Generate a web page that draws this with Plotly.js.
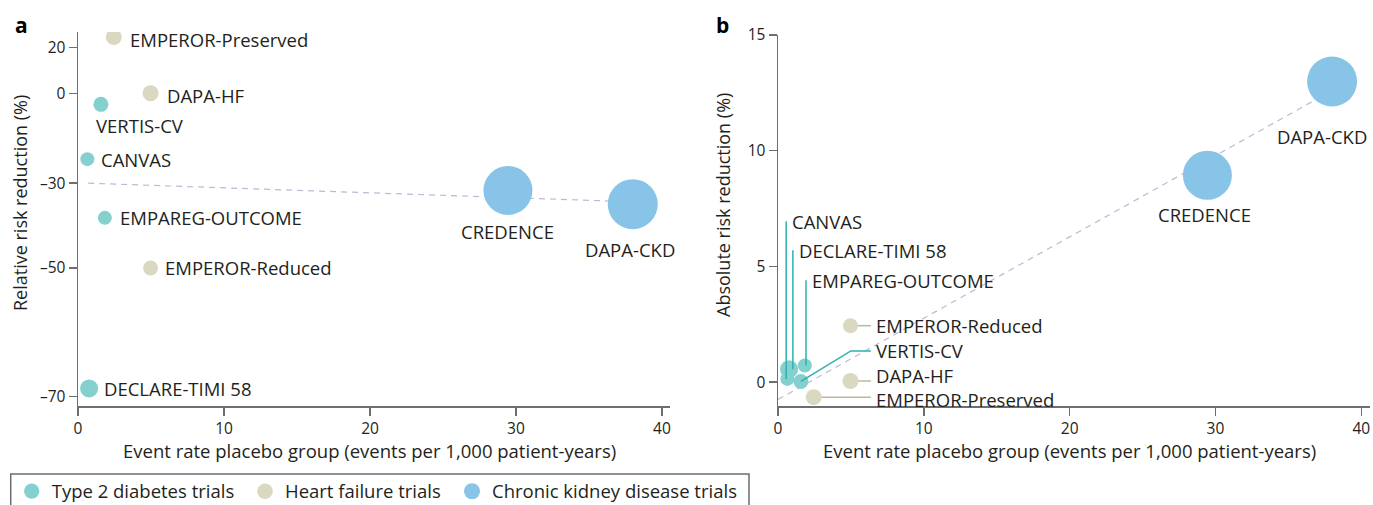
<!DOCTYPE html>
<html><head><meta charset="utf-8">
<script src="https://cdn.plot.ly/plotly-3.0.1.min.js"></script>
<style>html,body{margin:0;padding:0;background:#fff}#chart{width:1373px;height:505px}</style>
</head><body><div id="chart"></div>
<script>
// ---------------- DATA ----------------
const trials = ['EMPEROR-Preserved','DAPA-HF','VERTIS-CV','CANVAS','EMPAREG-OUTCOME','EMPEROR-Reduced','DECLARE-TIMI 58','CREDENCE','DAPA-CKD'];
const groups = ['HF','HF','T2D','T2D','T2D','HF','T2D','CKD','CKD'];
const eventRate = [2.45, 4.97, 1.57, 0.64, 1.84, 4.97, 0.76, 29.45, 38.0];          // events per 1,000 patient-years
const relRiskReduction = [25, 0, -4.3, -23, -39, -50, -69, -32, -35.6];           // %
const absRiskReduction = [-0.65, 0.05, 0.03, 0.14, 0.72, 2.44, 0.56, 8.94, 12.99]; // %
const groupKeys = ['T2D','HF','CKD'];
const groupNames = ['Type 2 diabetes trials','Heart failure trials','Chronic kidney disease trials'];
const relTicks = [20, 0, -30, -50, -70];
const absTicks = [0, 5, 10, 15];
const xTicks = [0, 10, 20, 30, 40];
const fitRelX = [0.7, 38.0], fitRelY = [-30, -35];
const fitAbsX = [0, 38.0],  fitAbsY = [-0.75, 12.6];
const xTitleText = 'Event rate placebo group (events per 1,000 patient-years)';
const yTitleA = 'Relative risk reduction (%)';
const yTitleB = 'Absolute risk reduction (%)';
</script>
<script>
// ---------------- STYLE ----------------
const FONT = 'Open Sans, sans-serif';
const TXT = '#231f20';
const AX = '#6d6e71';
const colors = {T2D:'#84d0ce', HF:'#dbd8c2', CKD:'#88c4e7'};
const leaderColors = {T2D:'#2bb3ae', HF:'#bdb89c'};
const markerSize = [16,16,15,14,14,15,18,49,50];
const LBL = 18.5;
// panel a label placement (pixel shifts from point)
const labA = [
  {xa:'left',xs:14,ys:-2},{xa:'left',xs:14,ys:-2},{xa:'left',xs:-7,ys:-21},{xa:'left',xs:12,ys:0},
  {xa:'left',xs:13,ys:0},{xa:'left',xs:12,ys:0},{xa:'left',xs:13,ys:0},{xa:'center',xs:0,ys:-41},{xa:'center',xs:-3,ys:-45}];
// panel b label placement (data units)
const labB = [
  {xa:'left',x:6.6,y:-0.73},{xa:'left',x:6.6,y:0.29},{xa:'left',x:6.6,y:1.35},{xa:'left',x:0.84,y:6.95},
  {xa:'left',x:2.2,y:4.4},{xa:'left',x:6.6,y:2.47},{xa:'left',x:1.3,y:5.7},{xa:'center',x:29.24,y:7.24},{xa:'center',x:37.3,y:10.6}];
// legend entry positions (px): marker centre x
const legendMarkerX = [31.7, 265, 472];
const legendY = 491.7;

const hr = relRiskReduction.map(v => 1 + v/100);

const data = [];
data.push({x:fitRelX, y:fitRelY.map(v=>1+v/100), xaxis:'x', yaxis:'y', mode:'lines', showlegend:false, hoverinfo:'skip',
  line:{color:'#b9bad4', width:1.2, dash:'6px,5px'}});
data.push({x:fitAbsX, y:fitAbsY, xaxis:'x2', yaxis:'y2', mode:'lines', showlegend:false, hoverinfo:'skip',
  line:{color:'#b9bad4', width:1.2, dash:'6px,5px'}});
const legendIds = ['legend','legend2','legend3'];
groupKeys.forEach((g, gi) => {
  const idx = trials.map((_, i) => i).filter(i => groups[i] === g);
  data.push({x: idx.map(i=>eventRate[i]), y: idx.map(i=>hr[i]), text: idx.map(i=>trials[i]), xaxis:'x', yaxis:'y',
    type:'scatter', mode:'markers', name: groupNames[gi], legendgroup:g, legend:legendIds[gi], showlegend:true,
    marker:{color:colors[g], size: idx.map(i=>markerSize[i]), opacity:1, line:{width:0}}});
});
groupKeys.forEach((g, gi) => {
  const idx = trials.map((_, i) => i).filter(i => groups[i] === g);
  data.push({x: idx.map(i=>eventRate[i]), y: idx.map(i=>absRiskReduction[i]), text: idx.map(i=>trials[i]), xaxis:'x2', yaxis:'y2',
    type:'scatter', mode:'markers', name: groupNames[gi], legendgroup:g, showlegend:false,
    marker:{color:colors[g], size: idx.map(i=>markerSize[i]), opacity:1, line:{width:0}}});
});

const annotations = [];
trials.forEach((t, i) => {
  annotations.push({xref:'x', yref:'y', x:eventRate[i], y:Math.log10(hr[i]), text:t, showarrow:false,
    xanchor:labA[i].xa, yanchor:'middle', xshift:labA[i].xs, yshift:labA[i].ys, font:{family:FONT, size:LBL, color:TXT}});
  annotations.push({xref:'x2', yref:'y2', x:labB[i].x, y:labB[i].y, text:t, showarrow:false,
    xanchor:labB[i].xa, yanchor:'middle', font:{family:FONT, size:LBL, color:TXT}});
});
const fixedText = (txt, px, py, size, extra) => Object.assign({xref:'paper', yref:'paper', x:px/1373, y:1-py/505, text:txt, showarrow:false,
  xanchor:'center', yanchor:'middle', font:{family:FONT, size:size, color:TXT}}, extra || {});
annotations.push(fixedText('<b>a</b>', 13, 25, 21, {xanchor:'left', font:{family:FONT, size:21, color:'#000'}}));
annotations.push(fixedText('<b>b</b>', 714, 25, 21, {xanchor:'left', font:{family:FONT, size:21, color:'#000'}}));
annotations.push(fixedText(yTitleA, 20, 203, 18, {textangle:-90}));
annotations.push(fixedText(yTitleB, 723, 205, 18, {textangle:-90}));
annotations.push(fixedText(xTitleText, 369, 450, 18.5));
annotations.push(fixedText(xTitleText, 1069, 450, 18.5));

// leader lines panel b
const shapes = [];
trials.forEach((t, i) => {
  const g = groups[i], x = eventRate[i], y = absRiskReduction[i], L = labB[i];
  if (g === 'HF') {
    shapes.push({type:'line', xref:'x2', yref:'y2', x0:x, y0:y, x1:L.x-0.23, y1:y, layer:'below', line:{color:leaderColors.HF, width:1.5}});
  } else if (t === 'VERTIS-CV') {
    shapes.push({type:'path', xref:'x2', yref:'y2', path:`M${x},${y} L${L.x-1.6},${L.y} L${L.x-0.23},${L.y}`, layer:'above', line:{color:leaderColors.T2D, width:1.5}});
  } else if (g === 'T2D') {
    shapes.push({type:'line', xref:'x2', yref:'y2', x0:L.x-0.28, y0:y, x1:L.x-0.28, y1:L.y, layer:'above', line:{color:leaderColors.T2D, width:1.5}});
  }
});
// legend frame
shapes.push({type:'rect', xref:'paper', yref:'paper', x0:10.7/1373, x1:749/1373, y0:-0.05, y1:1-474/505, line:{color:AX, width:1.5}, fillcolor:'rgba(0,0,0,0)'});

const axBase = {showline:true, linecolor:AX, linewidth:1.5, ticks:'outside', ticklen:8, tickwidth:1.5, tickcolor:AX,
  showgrid:false, zeroline:false, tickfont:{family:FONT, size:15.5, color:TXT}, fixedrange:true};

const legBase = {orientation:'h', xanchor:'left', yanchor:'middle', y:1-legendY/505, borderwidth:0, bgcolor:'rgba(0,0,0,0)',
  font:{family:FONT, size:18.5, color:TXT}, itemclick:false, itemdoubleclick:false};

const layout = {
  width:1373, height:505, paper_bgcolor:'#fff', plot_bgcolor:'rgba(0,0,0,0)',
  margin:{l:0, r:0, t:0, b:0, autoexpand:false},
  font:{family:FONT, color:TXT},
  showlegend:true,
  xaxis:Object.assign({}, axBase, {domain:[78/1373, 670/1373], range:[0, 40.55], tickvals:xTicks, anchor:'y'}),
  yaxis:Object.assign({}, axBase, {domain:[1-406/505, 1-32/505], type:'log', range:[-0.5389, 0.1056], anchor:'x',
    tickvals:relTicks.map(v=>1+v/100), ticktext:relTicks.map(v=> v<0 ? '–'+Math.abs(v) : String(v))}),
  xaxis2:Object.assign({}, axBase, {domain:[778/1373, 1370/1373], range:[0, 40.6], tickvals:xTicks, anchor:'y2'}),
  yaxis2:Object.assign({}, axBase, {domain:[1-406/505, 1-35/505], range:[-1.03, 15.0], anchor:'x2', tickvals:absTicks}),
  legend:Object.assign({}, legBase, {x:(legendMarkerX[0]-20)/1373}),
  legend2:Object.assign({}, legBase, {x:(legendMarkerX[1]-20)/1373}),
  legend3:Object.assign({}, legBase, {x:(legendMarkerX[2]-20)/1373}),
  annotations:annotations, shapes:shapes
};
Plotly.newPlot('chart', data, layout, {displayModeBar:false, staticPlot:true});
</script>
</body></html>
